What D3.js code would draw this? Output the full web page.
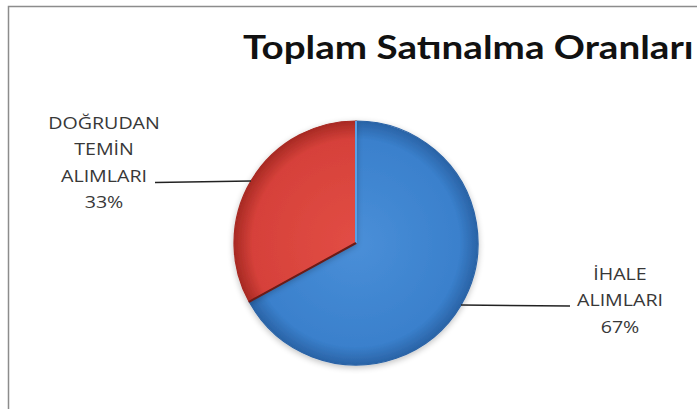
<!DOCTYPE html>
<html><head><meta charset="utf-8">
<script src="https://cdn.jsdelivr.net/npm/d3@7"></script>
<style>
html,body{margin:0;padding:0;background:#fff;overflow:hidden}
svg{display:block}
</style></head>
<body>
<svg id="chart" width="697" height="409"></svg>
<script>
const title = "Toplam Satınalma Oranları";
const categories = ["İHALE ALIMLARI", "DOĞRUDAN TEMİN ALIMLARI"];
const labelLines = [["İHALE", "ALIMLARI"], ["DOĞRUDAN", "TEMİN", "ALIMLARI"]];
const values = [67, 33];
const colors = ["#3a80cc", "#d6413a"];
const darkColors = ["#2a63a6", "#a82a24"];
const lightColors = ["#4a8fd8", "#e24d45"];

const svg = d3.select("#chart");
const SX = 1.19; // horizontal stretch of the text in the reference

// chart frame
svg.append("rect").attr("x", 8.5).attr("y", 6.5).attr("width", 720).attr("height", 440)
  .attr("fill", "#fff").attr("stroke", "#8c8c8c").attr("stroke-width", 1.5);

svg.append("text").attr("transform", `translate(243,59) scale(1.17,1)`)
  .attr("font-family", "Lato, 'Open Sans', sans-serif").attr("font-weight", 700)
  .attr("font-size", 33).attr("fill", "#111").text(title);

const cx = 356, cy = 243, r = 122;
const defs = svg.append("defs");
colors.forEach((c, i) => {
  const g = defs.append("radialGradient").attr("id", "grad" + i)
    .attr("gradientUnits", "userSpaceOnUse").attr("cx", 0).attr("cy", 0).attr("r", r);
  g.append("stop").attr("offset", "0%").attr("stop-color", lightColors[i]);
  g.append("stop").attr("offset", "85%").attr("stop-color", c);
  g.append("stop").attr("offset", "100%").attr("stop-color", darkColors[i]);
});
const shadow = defs.append("filter").attr("id", "sh").attr("x", "-20%").attr("y", "-20%").attr("width", "140%").attr("height", "140%");
shadow.append("feGaussianBlur").attr("in", "SourceAlpha").attr("stdDeviation", 3);
shadow.append("feOffset").attr("dx", 0).attr("dy", 2).attr("result", "b");
shadow.append("feComponentTransfer").append("feFuncA").attr("type", "linear").attr("slope", 0.25);
const m = shadow.append("feMerge"); m.append("feMergeNode"); m.append("feMergeNode").attr("in", "SourceGraphic");

const pie = d3.pie().sort(null).value(d => d)(values);
const arc = d3.arc().innerRadius(0).outerRadius(r);
const g = svg.append("g").attr("transform", `translate(${cx},${cy})`);
g.selectAll("path.slice").data(pie).join("path").attr("class", "slice")
  .attr("d", arc).attr("fill", (d, i) => `url(#grad${i})`)
  .attr("stroke", (d, i) => darkColors[i]).attr("stroke-width", 1.2)
  .attr("filter", "url(#sh)");
g.selectAll("path.sep").data(pie).join("path").attr("class", "sep")
  .attr("d", d => { const a = d.startAngle; return `M0,0L${r*Math.sin(a)},${-r*Math.cos(a)}`; })
  .attr("stroke", (d, i) => i === 0 ? "#5aa0e6" : "#6a1c18").attr("stroke-width", 2);

// leader lines & labels
const labelCfg = [ {endX: 570, textX: 620, lineIdx: 1}, {endX: 155, textX: 104, lineIdx: 2} ];
pie.forEach((d, i) => {
  const a = (d.startAngle + d.endAngle) / 2;
  const px = cx + r * Math.sin(a), py = cy - r * Math.cos(a);
  const cfg = labelCfg[i];
  svg.append("line").attr("x1", px).attr("y1", py).attr("x2", cfg.endX).attr("y2", py + (i === 0 ? 1 : 1.5))
    .attr("stroke", "#222").attr("stroke-width", 1.5);
  const lines = labelLines[i].concat([values[i] + "%"]);
  const lh = 26.5;
  const y0 = py - cfg.lineIdx * lh + 1;
  const t = svg.append("text").attr("transform", `translate(${cfg.textX},${y0}) scale(${SX},1)`)
    .attr("font-family", "'Open Sans', 'Noto Sans', sans-serif")
    .attr("font-size", 16.5).attr("fill", "#383838").attr("text-anchor", "middle");
  lines.forEach((s, k) => {
    t.append("tspan").attr("x", 0).attr("y", k * lh).text(s);
  });
});
</script>
</body></html>
